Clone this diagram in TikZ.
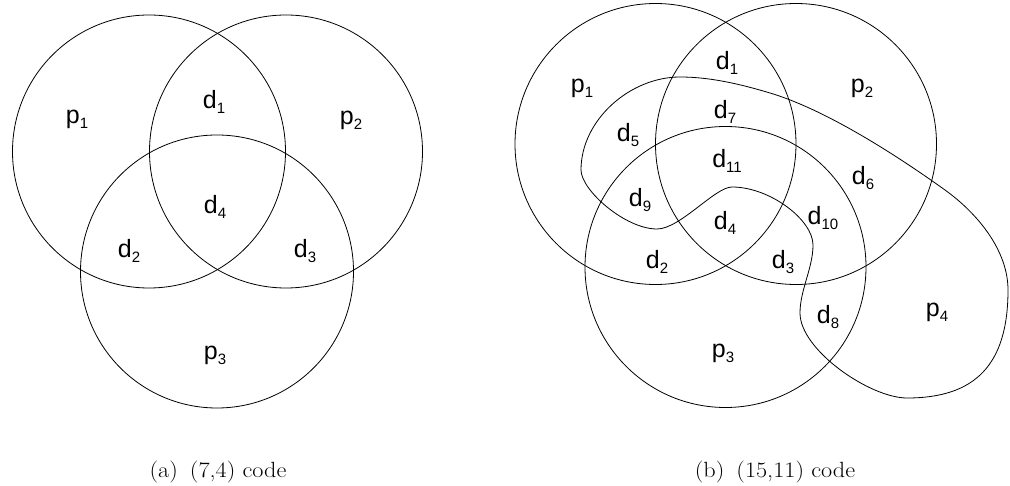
\documentclass[tikz,border=0pt]{standalone}
\usepackage{fontspec}
\usepackage{graphicx}
\newfontfamily\labfont{Liberation Sans}
\newcommand{\lbl}[2]{#1\raisebox{-5pt}{\fontsize{15}{15}\selectfont #2}}
\newcommand{\captxt}[1]{\scalebox{1.1}[1]{#1}}
\begin{document}
\begin{tikzpicture}[x=1pt,y=-1pt,
  set/.style={line width=0.8pt, draw=black},
  lab/.style={font=\labfont\fontsize{25}{28}\selectfont, inner sep=0pt, anchor=center},
  captext/.style={font=\fontsize{22}{24}\selectfont, inner sep=0pt}]
\useasboundingbox (0,0) rectangle (1010,486);
% (a)
\draw[set] (149,151.5) circle (136.5);
\draw[set] (286,151.5) circle (136.5);
\draw[set] (217,271.5) circle (136.5);
\node[lab] (ap1) at (77,119) {\lbl{p}{1}};
\node[lab] (ad1) at (214,102) {\lbl{d}{1}};
\node[lab] (ap2) at (351,120) {\lbl{p}{2}};
\node[lab] (ad4) at (215,207) {\lbl{d}{4}};
\node[lab] (ad2) at (129,251) {\lbl{d}{2}};
\node[lab] (ad3) at (305,251) {\lbl{d}{3}};
\node[lab] (ap3) at (215,355) {\lbl{p}{3}};
% (b)
\draw[set] (655.5,144) circle (140.5);
\draw[set] (796,144) circle (140.5);
\draw[set] (725.5,267) circle (140.5);
\coordinate (qa) at (581,170);
\coordinate (qb) at (680,77);
\coordinate (qm) at (770,93);
\coordinate (qc) at (945,190);
\coordinate (qd) at (1008,290);
\coordinate (qe) at (907,398);
\coordinate (qf) at (800,313);
\coordinate (qg) at (813,245);
\coordinate (qh) at (732,187);
\coordinate (qi) at (657,229);
\draw[set] (qa) .. controls (581,120) and (630,77) .. (qb)
  .. controls (710,77) and (740,84) .. (qm)
  .. controls (830,111) and (904.5,161) .. (qc)
  .. controls (977,213) and (1008,250) .. (qd)
  .. controls (1008,365) and (975,398) .. (qe)
  .. controls (870,398) and (800,350) .. (qf)
  .. controls (800,290) and (813,268) .. (qg)
  .. controls (813,220) and (770,187) .. (qh)
  .. controls (715,187) and (680,229) .. (qi)
  .. controls (625,229) and (581,190) .. (qa) -- cycle;
\node[lab] (bd1) at (727,63) {\lbl{d}{1}};
\node[lab] (bp1) at (582,88) {\lbl{p}{1}};
\node[lab] (bp2) at (862,88) {\lbl{p}{2}};
\node[lab] (bd7) at (725,112) {\lbl{d}{7}};
\node[lab] (bd5) at (628,135) {\lbl{d}{5}};
\node[lab] (bd11) at (727,161) {\lbl{d}{11}};
\node[lab] (bd6) at (863,178) {\lbl{d}{6}};
\node[lab] (bd9) at (640,200) {\lbl{d}{9}};
\node[lab] (bd10) at (823,218) {\lbl{d}{10}};
\node[lab] (bd4) at (725,223) {\lbl{d}{4}};
\node[lab] (bd2) at (657,262) {\lbl{d}{2}};
\node[lab] (bd3) at (783,262) {\lbl{d}{3}};
\node[lab] (bd8) at (828,317) {\lbl{d}{8}};
\node[lab] (bp4) at (937,312) {\lbl{p}{4}};
\node[lab] (bp3) at (723,353) {\lbl{p}{3}};
% captions
\node[captext] (capa) at (218,472) {\captxt{(a)\hspace{0.5em}(7,4) code}};
\node[captext] (capb) at (775,472) {\captxt{(b)\hspace{0.5em}(15,11) code}};
\end{tikzpicture}
\end{document}
